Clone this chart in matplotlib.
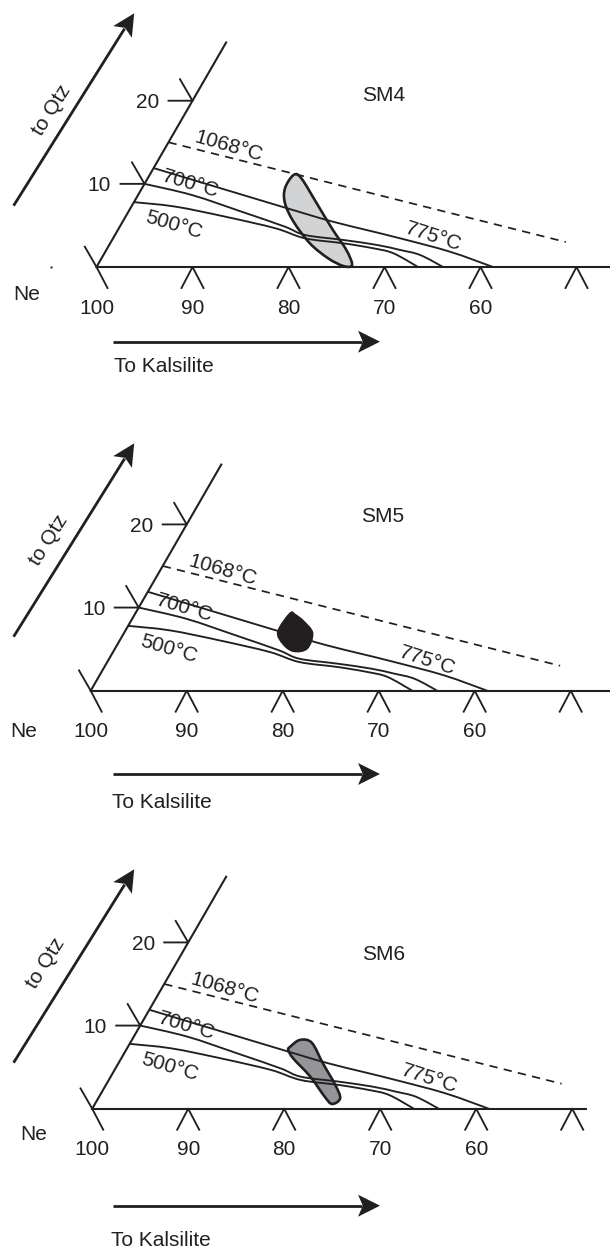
import numpy as np
import matplotlib.pyplot as plt
from matplotlib.path import Path
from matplotlib.patches import PathPatch, Polygon
from matplotlib.transforms import Affine2D

plt.rcParams['font.family'] = ['Liberation Sans', 'DejaVu Sans']

INK = '#231f20'
FS = 15

samples = ['SM4', 'SM5', 'SM6']
field_colors = ['#d1d3d4', '#231f20', '#939598']

# Ne (wt%) along the base, Qtz (wt%) up the slanted side
ne_ticks = [100, 90, 80, 70, 60, 50]
ne_labels = ['100', '90', '80', '70', '60', '']
qtz_ticks = [10, 20]
qtz_labels = ['10', '20']

# isotherms as (Ne, Qtz) pairs
iso_1068_ne = [100, 52.6]
iso_1068_q = [15.0, 3.0]
iso_775_ne = [100, 91.9, 82.1, 78.1, 74.1, 70.1, 64.1, 58.7]
iso_775_q = [11.9, 9.5, 6.6, 5.45, 4.45, 3.45, 1.84, 0.0]
iso_700_ne = [100, 94.4, 88.2, 82.8, 80.2, 75.9, 72.1, 69.4, 67.0, 63.9]
iso_700_q = [10.0, 8.66, 6.65, 4.85, 3.85, 3.25, 2.65, 2.05, 1.44, 0.0]
iso_500_ne = [100, 95.4, 89.6, 83.7, 80.0, 75.7, 72.3, 69.9, 66.5]
iso_500_q = [7.8, 7.26, 6.05, 4.66, 3.45, 2.85, 2.25, 1.65, 0.0]

iso_labels = ['1068°C', '775°C', '700°C', '500°C']
iso_label_ne = [93.5, 66.7, 95.2, 94.4]
iso_label_q = [14.5, 3.6, 10.0, 5.0]
iso_label_rot = [-16, -18, -16.5, -16.5]

# glass composition fields, outlines in (Ne, Qtz)
sm4_ne = [85.0, 84.0, 80.9, 77.6, 75.0, 73.5, 74.35, 76.4, 79.2, 82.2, 84.2, 85.1]
sm4_q = [11.07, 10.67, 7.67, 4.45, 2.05, 0.24, 0.12, 1.05, 2.85, 5.45, 7.67, 9.47]
sm5_ne = [83.85, 83.3, 82.0, 80.4, 80.05, 81.3, 82.8, 84.0]
sm5_q = [9.23, 9.11, 8.30, 6.91, 5.10, 4.81, 5.70, 7.10]
sm6_ne = [82.5, 81.1, 78.7, 76.1, 74.8, 75.3, 76.5, 79.2, 82.1, 83.1, 83.1]
sm6_q = [8.27, 7.94, 5.46, 2.85, 1.25, 0.57, 1.44, 3.85, 6.06, 7.06, 7.46]
fields = [(sm4_ne, sm4_q), (sm5_ne, sm5_q), (sm6_ne, sm6_q)]

# panel placement (pixels)
origins = [(96.5, 267.0), (90.7, 690.7), (92.2, 1108.7)]
qtz_top = [27.0, 27.2, 27.9]
base_end = [45.0, 45.0, 48.6]
sample_pos = [(80.4, 20.6), (80.0, 20.9), (78.9, 18.5)]
qtz_arrow_y = [(205.7, 13.3), (636.7, 443.3), (1062.7, 869.3)]
qtz_text_pos = [(51.5, 110.0), (48.6, 540.0), (45.5, 963.3)]
ne_text_pos = [(26.7, 294.0), (24.0, 731.7), (33.3, 1135.0)]
kals_arrow_y = [341.7, 774.0, 1205.7]
kals_text_pos = [(114.0, 367.0), (112.5, 803.0), (111.0, 1240.0)]

UNIT = 9.6
HGT = UNIT * np.sin(np.radians(60))


def smooth_path(xs, ys, closed=False):
    pts = np.column_stack([xs, ys]).astype(float)
    if closed:
        P = np.vstack([pts[-1], pts, pts[0], pts[1]])
    else:
        P = np.vstack([pts[0], pts, pts[-1]])
    verts = [P[1]]
    codes = [Path.MOVETO]
    for i in range(1, len(P) - 2):
        p0, p1, p2, p3 = P[i - 1], P[i], P[i + 1], P[i + 2]
        verts += [p1 + (p2 - p0) / 6, p2 - (p3 - p1) / 6, p2]
        codes += [Path.CURVE4] * 3
    if closed:
        verts.append(P[1])
        codes.append(Path.CLOSEPOLY)
    return Path(verts, codes)


def arrow(ax, x1, y1, x2, y2, length=22, half=11):
    d = np.array([x2 - x1, y2 - y1], float)
    d /= np.hypot(*d)
    n = np.array([-d[1], d[0]])
    tip = np.array([x2, y2])
    back = tip - length * d
    ax.plot([x1, back[0] + 4 * d[0]], [y1, back[1] + 4 * d[1]],
            color=INK, lw=2.0, solid_capstyle='butt')
    head = [tip, back + half * n, tip - 0.78 * length * d, back - half * n]
    ax.add_patch(Polygon(head, closed=True, color=INK, lw=0))


fig = plt.figure(figsize=(6.1, 12.5), dpi=100)
ax = fig.add_axes([0, 0, 1, 1])
ax.set_xlim(0, 610)
ax.set_ylim(1250, 0)
ax.axis('off')

for k in range(3):
    x0, y0 = origins[k]
    aff = Affine2D.from_values(-UNIT, 0, UNIT / 2, -HGT, x0 + 100 * UNIT, y0)
    tr = aff + ax.transData

    # axes
    ax.plot([100, base_end[k]], [0, 0], transform=tr, color=INK, lw=1.5)
    ax.plot([100, 100], [0, qtz_top[k]], transform=tr, color=INK, lw=1.5)

    for t in ne_ticks:
        px, py = aff.transform((t, 0))
        if t == 100:
            ax.plot([px - 11.7, px, px + 11], [py - 20.3, py, py + 21],
                    color=INK, lw=1.35)
        else:
            ax.plot([px - 11, px, px + 11], [py + 21, py, py + 21],
                    color=INK, lw=1.35)
    for t in qtz_ticks:
        px, py = aff.transform((100, t))
        ax.plot([px - 24, px, px - 12.5], [py, py, py - 21.5], color=INK, lw=1.35)

    for t, lab in zip(ne_ticks, ne_labels):
        ax.annotate(lab, xy=(t, 0), xycoords=tr, xytext=(0, -41),
                    textcoords='offset pixels', ha='center', va='center',
                    fontsize=FS, color=INK)
    for t, lab in zip(qtz_ticks, qtz_labels):
        ax.annotate(lab, xy=(100, t), xycoords=tr, xytext=(-45, -2),
                    textcoords='offset pixels', ha='center', va='center',
                    fontsize=FS, color=INK)

    # composition field under the isotherms
    fx, fy = fields[k]
    ax.add_patch(PathPatch(smooth_path(fx, fy, closed=True), transform=tr,
                           facecolor=field_colors[k], edgecolor=INK, lw=1.9,
                           zorder=2))

    ax.plot(iso_1068_ne, iso_1068_q, transform=tr, color=INK, lw=1.25,
            dashes=(4.8, 3.6), zorder=3)
    for xs, ys in [(iso_775_ne, iso_775_q), (iso_700_ne, iso_700_q),
                   (iso_500_ne, iso_500_q)]:
        ax.add_patch(PathPatch(smooth_path(xs, ys), transform=tr, fill=False,
                               edgecolor=INK, lw=1.35, zorder=3))

    for lab, lx, ly, rot in zip(iso_labels, iso_label_ne, iso_label_q, iso_label_rot):
        ax.text(lx, ly, lab, transform=tr, rotation=rot, rotation_mode='anchor',
                ha='center', va='center', fontsize=FS, color=INK, zorder=4)

    sx, sy = sample_pos[k]
    ax.text(sx, sy, samples[k], transform=tr, ha='center', va='center',
            fontsize=FS, color=INK)

    # direction arrows
    ya, yb = qtz_arrow_y[k]
    arrow(ax, 13.6, ya, 134.2, yb)
    tx, ty = qtz_text_pos[k]
    ax.text(tx, ty, 'to Qtz', rotation=58, rotation_mode='anchor', ha='center',
            va='center', fontsize=FS, color=INK)

    arrow(ax, 113.3, kals_arrow_y[k], 380.0, kals_arrow_y[k])
    kx, ky = kals_text_pos[k]
    ax.text(kx, ky, 'To Kalsilite', ha='left', va='center', fontsize=FS, color=INK)

    nx, ny = ne_text_pos[k]
    ax.text(nx, ny, 'Ne', ha='center', va='center', fontsize=FS, color=INK)

ax.plot([50.6], [267.0], 'o', ms=1.6, color=INK, mec='none')

fig.savefig('out.png', dpi=100, facecolor='white')
